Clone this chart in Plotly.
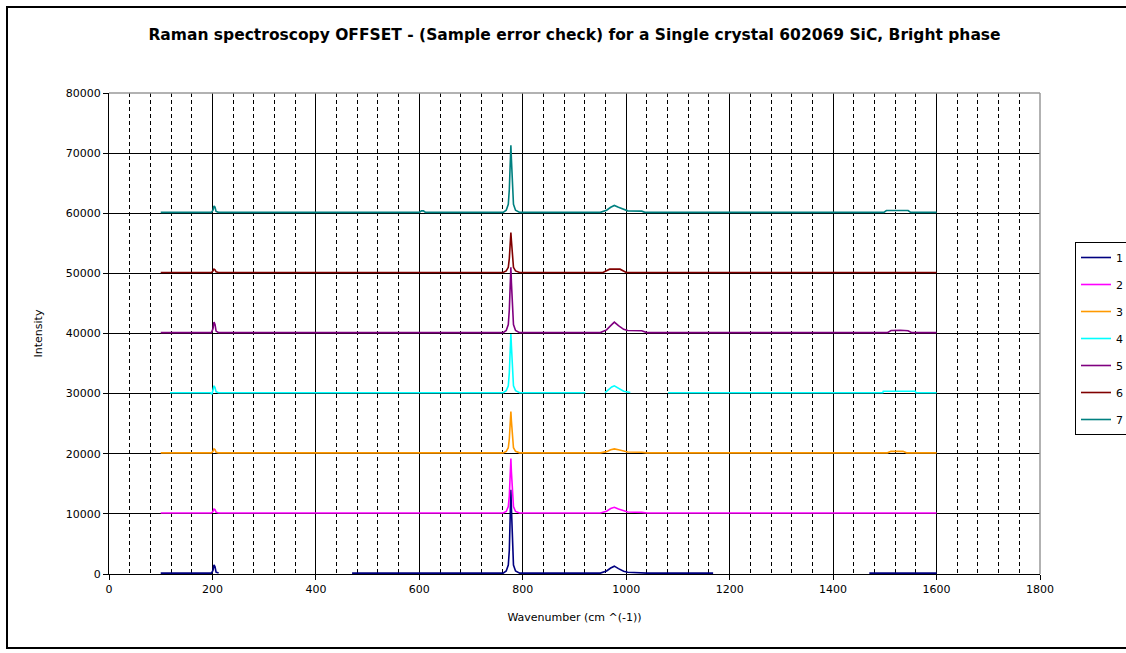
import plotly.graph_objects as go

TITLE = "Raman spectroscopy OFFSET - (Sample error check) for a Single crystal 602069 SiC, Bright phase"
X_TITLE = "Wavenumber (cm ^(-1))"
Y_TITLE = "Intensity"
SERIES_NAMES = ["1", "2", "3", "4", "5", "6", "7"]
COLORS = ["#000080", "#FF00FF", "#FF9900", "#00FFFF", "#800080", "#800000", "#008080"]
OFFSETS = [0, 10000, 20000, 30000, 40000, 50000, 60000]

# wavenumber (cm^-1) and relative intensity for each spectrum (None = no visible trace)
wn_1 = [100, 198, 201, 203, 205, 207, 212, 213, 470, 762, 768, 772, 774, 776, 777, 778, 780, 782, 786, 794,
        950, 962, 970, 977, 985, 995, 1003, 1030, 1040, 1168, 1169, 1470, 1600]
int_1 = [150, 150, 600, 1500, 1200, 300, 150, None, 150, 150, 500, 1500, 4000, 10000, 14000, 11000, 4000, 1500, 500, 150,
         150, 500, 1000, 1300, 900, 450, 300, 250, 150, 150, None, 150, 150]

wn_2 = [100, 198, 201, 203, 205, 207, 212, 762, 768, 772, 774, 776, 777, 778, 780, 782, 786, 794,
        950, 962, 970, 977, 985, 995, 1003, 1030, 1040, 1600]
int_2 = [150, 150, 400, 800, 700, 250, 150, 150, 400, 1200, 3000, 7000, 9200, 7000, 3000, 1200, 400, 150,
         150, 450, 900, 1100, 800, 450, 300, 250, 150, 150]

wn_3 = [100, 198, 201, 203, 205, 207, 212, 762, 768, 772, 774, 776, 777, 778, 780, 782, 786, 794,
        950, 962, 970, 977, 985, 995, 1003, 1030, 1040, 1505, 1512, 1535, 1542, 1600]
int_3 = [150, 150, 400, 800, 700, 250, 150, 150, 400, 1000, 2500, 5500, 7000, 5500, 2500, 1000, 400, 150,
         150, 350, 650, 800, 650, 400, 300, 250, 150, 150, 400, 400, 150, 150]

wn_4 = [118, 196, 199, 201, 203, 205, 207, 212, 762, 768, 772, 774, 776, 777, 778, 780, 782, 786, 794,
        921, 922, 959, 965, 972, 977, 985, 995, 1008, 1009, 1081, 1496, 1497, 1559, 1560, 1600]
int_4 = [150, 150, -100, 500, 1300, 1000, 300, 150, 150, 500, 1300, 3500, 8000, 9900, 8000, 3500, 1300, 500, 150,
         150, None, 150, 600, 1100, 1300, 900, 400, 200, None, 150, 150, 400, 400, 150, 150]

wn_5 = [100, 198, 201, 203, 205, 207, 212, 762, 768, 772, 774, 776, 777, 778, 780, 782, 786, 794,
        950, 962, 970, 977, 985, 995, 1003, 1030, 1040, 1505, 1512, 1530, 1545, 1552, 1600]
int_5 = [150, 150, 800, 1900, 1500, 400, 150, 150, 500, 1500, 4000, 8500, 11000, 8500, 4000, 1500, 500, 150,
         150, 600, 1300, 1900, 1300, 700, 500, 450, 150, 150, 500, 550, 450, 150, 150]

wn_6 = [100, 198, 201, 203, 205, 207, 212, 762, 768, 772, 774, 776, 777, 778, 780, 782, 786, 794,
        955, 962, 968, 988, 995, 1000, 1600]
int_6 = [150, 150, 400, 700, 600, 250, 150, 150, 400, 1000, 2500, 5500, 6800, 5500, 2500, 1000, 400, 150,
         150, 450, 700, 700, 450, 150, 150]

wn_7 = [100, 198, 201, 203, 205, 207, 212, 600, 604, 608, 612, 762, 768, 772, 774, 776, 777, 778, 780, 782, 786, 794,
        950, 962, 970, 977, 985, 995, 1003, 1030, 1036, 1498, 1503, 1545, 1550, 1600]
int_7 = [150, 150, 500, 1200, 1000, 300, 150, 150, 400, 400, 150, 150, 500, 1500, 4000, 9000, 11300, 9000, 4000, 1500, 500, 150,
         150, 500, 1000, 1300, 1000, 600, 400, 350, 150, 150, 450, 450, 150, 150]

WAVENUMBERS = [wn_1, wn_2, wn_3, wn_4, wn_5, wn_6, wn_7]
INTENSITIES = [int_1, int_2, int_3, int_4, int_5, int_6, int_7]

X_RANGE = [0, 1800]
Y_RANGE = [0, 80000]

FONT = "DejaVu Sans, Verdana, sans-serif"

fig = go.Figure()
for name, color, off, wn, it in zip(SERIES_NAMES, COLORS, OFFSETS, WAVENUMBERS, INTENSITIES):
    fig.add_trace(go.Scatter(
        x=wn,
        y=[None if v is None else v + off for v in it],
        mode="lines",
        name=name,
        legendgroup=name,
        connectgaps=False,
        line=dict(color=color, width=1.6),
    ))

W, H = 1126, 653
L, R, T, B = 109, 86, 93, 79
pw, ph = W - L - R, H - T - B


def px_x(p):
    return (p - L) / pw


def px_y(p):
    return (H - B - p) / ph


fig.update_layout(
    width=W, height=H,
    margin=dict(l=L, r=R, t=T, b=B, pad=0, autoexpand=False),
    paper_bgcolor="white",
    plot_bgcolor="white",
    font=dict(family=FONT, size=11, color="black"),
    title=dict(text="<b>" + TITLE + "</b>", x=0.5, xref="paper", xanchor="center",
               y=1 - 35 / H, yref="container", yanchor="middle",
               font=dict(family=FONT, size=15.5, color="black")),
    showlegend=True,
    legend=dict(x=px_x(1075), y=px_y(242), xanchor="left", yanchor="top",
                bordercolor="black", borderwidth=1, bgcolor="white",
                font=dict(family=FONT, size=11, color="black"),
                traceorder="grouped", tracegroupgap=8, itemwidth=30),
    xaxis=dict(range=X_RANGE, dtick=200, tick0=0, showgrid=True, gridcolor="black", gridwidth=1,
               zeroline=False, showline=True, linecolor="black", linewidth=1,
               ticks="outside", ticklen=5, tickcolor="black", tickformat="d",
               minor=dict(dtick=40, tick0=0, showgrid=True, gridcolor="black", gridwidth=1,
                          griddash="4px,3px", ticks=""),
               title=dict(text=X_TITLE, font=dict(family=FONT, size=11), standoff=18),
               tickfont=dict(family=FONT, size=11), fixedrange=True),
    yaxis=dict(range=Y_RANGE, dtick=10000, tick0=0, showgrid=True, gridcolor="black", gridwidth=1,
               zeroline=False, showline=True, linecolor="black", linewidth=1,
               ticks="outside", ticklen=5, tickcolor="black", tickformat="d",
               title=dict(text=Y_TITLE, font=dict(family=FONT, size=11), standoff=20),
               tickfont=dict(family=FONT, size=11), fixedrange=True),
    shapes=[
        dict(type="line", xref="paper", yref="paper", x0=0, x1=1, y0=1, y1=1,
             line=dict(color="#999999", width=1.5)),
        dict(type="line", xref="paper", yref="paper", x0=1, x1=1, y0=0, y1=1,
             line=dict(color="#999999", width=1.5)),
        dict(type="rect", xref="paper", yref="paper",
             x0=px_x(7), x1=px_x(1140), y0=px_y(648), y1=px_y(7),
             line=dict(color="black", width=2), fillcolor="rgba(0,0,0,0)", layer="above"),
    ],
)

fig.write_html("out.html")
